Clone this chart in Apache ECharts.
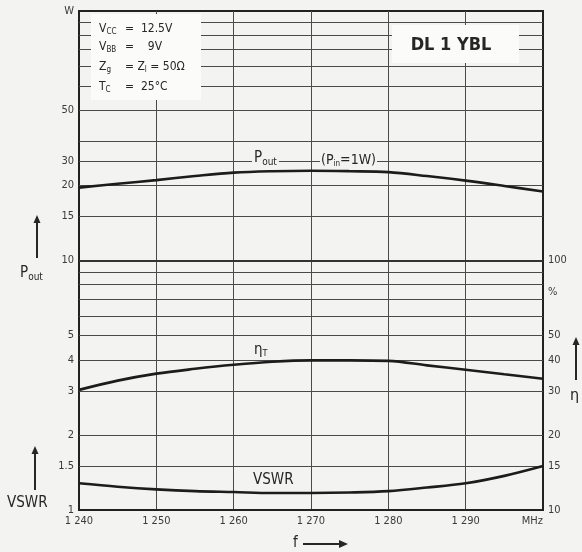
<!DOCTYPE html>
<html><head><meta charset="utf-8">
<script src="https://cdn.jsdelivr.net/npm/echarts@6/dist/echarts.min.js"></script>
<style>html,body{margin:0;padding:0;background:#f3f3f1}#c{width:582px;height:552px}</style>
</head><body><div id="c"></div>
<script>
// ---- data ----
const freq = [1240,1245,1250,1255,1260,1265,1270,1275,1280,1285,1290,1295,1300];
const pout = [19.6,20.3,21.0,21.8,22.5,22.8,22.9,22.8,22.6,21.8,20.9,19.9,18.9];
const etaT = [30.3,33.0,35.2,36.8,38.2,39.3,39.8,39.8,39.6,38.0,36.5,35.0,33.6];
const vswr = [1.28,1.24,1.21,1.19,1.18,1.17,1.17,1.175,1.19,1.23,1.28,1.37,1.50];
const xTicks = [1240,1250,1260,1270,1280,1290,1300];
const xTickLabels = ['1 240','1 250','1 260','1 270','1 280','1 290','MHz'];
const leftTicks = [1,1.5,2,3,4,5,10,15,20,25,40,100];
const leftTickLabels = ['1','1.5','2','3','4','5','10','15','20','30','50','W'];
const rightTicks = [10,15,20,30,40,50,75,100];
const rightTickLabels = ['10','15','20','30','40','50','%','100'];
const gridValues = [1.5,2,3,4,5,6,7,8,9,15,20,25,30,40,50,60,70,80,90];
const decadeValue = 10;

const FONT = "'DejaVu Sans Condensed','Liberation Sans Narrow',sans-serif";
const INK = '#262626';
const BG = '#f3f3f1';
const BOX = '#fbfbfa';

const chart = echarts.init(document.getElementById('c'), null, {renderer:'canvas'});
const pairs = a => freq.map((f,i)=>[f,a[i]]);
const gridLines = gridValues.map(v=>({yAxis:v}));
gridLines.push({yAxis:decadeValue, lineStyle:{width:2,color:'#333'}});

const lineSeries = (name, data, yi, extra) => Object.assign({
  name, type:'line', data:pairs(data), yAxisIndex:yi, smooth:0.35, showSymbol:false,
  lineStyle:{color:'#1c1c1c', width:2.6}, z:5, animation:false, silent:true
}, extra||{});

const txt = (x,y,text,opt) => ({type:'text', x, y, z:110, style:Object.assign({
  text, fill:INK, font:'12px '+FONT, textAlign:'left', textVerticalAlign:'middle'}, opt||{})});
const arrow = (x,y1,y2) => [
  {type:'line', z:110, shape:{x1:x,y1:y1,x2:x,y2:y2+6}, style:{stroke:INK,lineWidth:2}},
  {type:'polygon', z:110, shape:{points:[[x-3.5,y2+8],[x+3.5,y2+8],[x,y2]]}, style:{fill:INK}}
];
const sub = (fs,pad) => ({rich:{s:{fontSize:fs,fontFamily:FONT,fill:INK,padding:[pad,0,0,0]}}});

chart.setOption({
  backgroundColor: BG,
  animation:false,
  grid:{left:79, right:39, top:11, bottom:42, show:true, borderColor:'#222', borderWidth:2},
  xAxis:{type:'value', min:1240, max:1300, interval:10,
    axisLine:{lineStyle:{color:'#222',width:2}}, axisTick:{show:false},
    splitLine:{show:true, lineStyle:{color:'#4a4a4a',width:1}},
    axisLabel:{color:'#3a3a3a', fontSize:11, fontFamily:FONT, margin:6, alignMaxLabel:'right',
      formatter:v=>xTickLabels[xTicks.indexOf(v)]}},
  yAxis:[
    {type:'log', logBase:10, min:1, max:100,
      axisLine:{show:true,lineStyle:{color:'#222',width:2}}, axisTick:{show:false},
      splitLine:{show:false},
      axisLabel:{color:'#3a3a3a', fontSize:11, fontFamily:FONT, margin:5, customValues:leftTicks,
        formatter:v=>{const i=leftTicks.findIndex(t=>Math.abs(t-v)<1e-6);return i<0?'':leftTickLabels[i];}}},
    {type:'log', logBase:10, min:10, max:1000, position:'right',
      axisLine:{show:true,lineStyle:{color:'#222',width:2}}, axisTick:{show:false},
      splitLine:{show:false},
      axisLabel:{color:'#3a3a3a', fontSize:11, fontFamily:FONT, margin:5, customValues:rightTicks,
        formatter:v=>{const i=rightTicks.findIndex(t=>Math.abs(t-v)<1e-6);return i<0?'':rightTickLabels[i];}}}
  ],
  series:[
    lineSeries('grid', [], 0, {data:[], markLine:{silent:true, symbol:['none','none'], animation:false,
      label:{show:false}, lineStyle:{color:'#4a4a4a', width:1, type:'solid'}, data:gridLines}, z:2}),
    lineSeries('Pout', pout, 0),
    lineSeries('etaT', etaT, 1),
    lineSeries('VSWR', vswr, 0)
  ],
  graphic:[
    {type:'rect', z:100, shape:{x:91,y:14,width:110,height:86}, style:{fill:BOX}},
    {type:'rect', z:100, shape:{x:392,y:25,width:127,height:38}, style:{fill:BOX}},
    txt(99,29,'V{s|CC}',sub(8,6)),
    txt(125,29,'=  12.5V'),
    txt(99,47,'V{s|BB}',sub(8,6)),
    txt(125,47,'=    9V'),
    txt(99,67,'Z{s|g}',sub(8,6)),
    txt(125,67,'= Z{s|l} = 50Ω',sub(8,6)),
    txt(99,87,'T{s|C}',sub(8,6)),
    txt(125,87,'=  25°C'),
    txt(451,45,'DL 1 YBL',{font:'bold 18px '+FONT, textAlign:'center'}),
    txt(252,158,'P{s|out}',Object.assign({font:'15px '+FONT, backgroundColor:BG, padding:[0,2]},sub(10,8))),
    txt(320,160,'(P{s|in}=1W)',Object.assign({font:'14px '+FONT, backgroundColor:BG, padding:[0,1]},sub(8,7))),
    txt(254,350,'η{s|T}',Object.assign({font:'15px '+FONT},sub(9,8))),
    txt(253,480,'VSWR',{font:'15px '+FONT}),
    txt(20,273,'P{s|out}',Object.assign({font:'15px '+FONT},sub(10,8))),
    ...arrow(37,258,215),
    txt(7,503,'VSWR',{font:'15px '+FONT}),
    ...arrow(35,490,446),
    ...arrow(576,380,337),
    txt(570,396,'η',{font:'16px '+FONT}),
    txt(293,543,'f',{font:'15px '+FONT}),
    {type:'line', z:110, shape:{x1:303,y1:544,x2:341,y2:544}, style:{stroke:INK,lineWidth:2}},
    {type:'polygon', z:110, shape:{points:[[339,540],[339,548],[348,544]]}, style:{fill:INK}}
  ]
});
</script></body></html>
